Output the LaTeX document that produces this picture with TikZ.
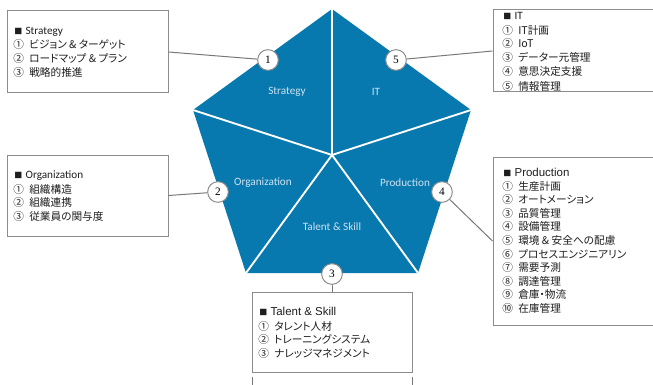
\documentclass[tikz,border=0pt]{standalone}
\usepackage{fontspec}
\setmainfont{Liberation Sans}
\newfontfamily\jpf[RawFeature=+palt]{Noto Sans CJK JP}
\newfontfamily\calf{Carlito}
\newfontfamily\serf{Liberation Serif}
\usetikzlibrary{fit}
\definecolor{pent}{RGB}{8,121,175}
\definecolor{lbl}{RGB}{205,226,240}
\definecolor{bordc}{RGB}{140,140,140}
\definecolor{connc}{RGB}{120,120,120}
\definecolor{txtc}{RGB}{30,30,30}
\newcommand\sq{{\fontsize{6pt}{7pt}\selectfont ■}\hspace{2.5pt}}
\newcommand\gp{\hspace{4pt}}
\tikzset{
  box/.style={draw=bordc, line width=0.75pt, inner sep=0pt, fill=white},
  ln/.style={anchor=base west, inner sep=0pt, text=txtc, font=\jpf\fontsize{8pt}{10pt}\selectfont},
  plbl/.style={inner sep=0pt, text=lbl, font=\calf\fontsize{8.4pt}{10pt}\selectfont},
  numc/.style={circle, draw=bordc, fill=white, line width=0.75pt, minimum size=15.5pt, inner sep=0pt, font=\serf\fontsize{8.5pt}{10pt}\selectfont},
  conn/.style={draw=connc, line width=0.75pt},
}
\begin{document}
\begin{tikzpicture}[x=0.75pt,y=-0.75pt]
\useasboundingbox (0,0) rectangle (653,385);
% pentagon
\coordinate (C) at (332,155);
\coordinate (VT) at (332,9);
\coordinate (VL) at (193,110);
\coordinate (VR) at (471,110);
\coordinate (VBL) at (246,273);
\coordinate (VBR) at (418,273);
\fill[pent] (VT) -- (VR) -- (VBR) -- (VBL) -- (VL) -- cycle;
\foreach \v in {VT,VL,VR,VBL,VBR} \draw[white, line width=1.4pt] (C) -- (\v);
% pentagon labels
\node[plbl] (lS) at (287,92) {Strategy};
\node[plbl] (lI) at (376,92) {IT};
\node[plbl] (lO) at (263,183) {Organization};
\node[plbl] (lP) at (405,183) {Production};
\node[plbl] (lT) at (332,227) {Talent \& Skill};
% boxes
\node[box, fit={(7,11)(168,93)}] (bS) {};
\node[box, fit={(493,10)(670,92)}] (bI) {};
\node[box, fit={(7,155)(168,236)}] (bO) {};
\node[box, fit={(493,157)(670,325)}] (bP) {};
\node[box, fit={(252,292)(412,372)}] (bT) {};
\draw[conn] (252,377) -- (252,395);
\draw[conn] (412,377) -- (412,395);
% circles
\node[numc] (c1) at (268,60) {1};
\node[numc] (c5) at (396,60) {5};
\node[numc] (c2) at (218,192) {2};
\node[numc] (c4) at (442,192) {4};
\node[numc] (c3) at (332,274) {3};
% connectors
\draw[conn] (bS.east) -- (c1);
\draw[conn] (bI.west) -- (c5);
\draw[conn] (bO.east) -- (c2);
\draw[conn] (bP.west) -- (c4);
\draw[conn] (bT.north) -- (c3);
% Strategy text
\node[ln] (s0) at (14,35) {\sq{\calf\fontsize{8.4pt}{10pt}\selectfont Strategy}};
\node[ln] (s1) at (13,49) {①\gp ビジョン \& ターゲット};
\node[ln] (s2) at (13,63) {②\gp ロードマップ \& プラン};
\node[ln] (s3) at (13,77) {③\gp 戦略的推進};
% IT text
\node[ln] (i0) at (503,20) {\sq{\calf\fontsize{8.4pt}{10pt}\selectfont IT}};
\node[ln] (i1) at (502,35) {①\gp IT計画};
\node[ln] (i2) at (502,48) {②\gp IoT};
\node[ln] (i3) at (502,62) {③\gp データー元管理};
\node[ln] (i4) at (502,76) {④\gp 意思決定支援};
\node[ln] (i5) at (502,90) {⑤\gp 情報管理};
% Organization text
\node[ln] (o0) at (14,178) {\sq{\calf\fontsize{8.4pt}{10pt}\selectfont Organization}};
\node[ln] (o1) at (13,193) {①\gp 組織構造};
\node[ln] (o2) at (13,206) {②\gp 組織連携};
\node[ln] (o3) at (13,220) {③\gp 従業員の関与度};
% Production text
\node[ln] (p0) at (503,176) {\sq{\fontsize{8.6pt}{10pt}\selectfont\rmfamily Production}};
\node[ln] (p1) at (502,190) {①\gp 生産計画};
\node[ln] (p2) at (502,203.6) {②\gp オートメーション};
\node[ln] (p3) at (502,217.2) {③\gp 品質管理};
\node[ln] (p4) at (502,230.8) {④\gp 設備管理};
\node[ln] (p5) at (502,244.4) {⑤\gp 環境 \& 安全への配慮};
\node[ln] (p6) at (502,258) {⑥\gp プロセスエンジニアリン};
\node[ln] (p7) at (502,271.6) {⑦\gp 需要予測};
\node[ln] (p8) at (502,285.2) {⑧\gp 調達管理};
\node[ln] (p9) at (502,298.8) {⑨\gp 倉庫・物流};
\node[ln] (p10) at (502,312.4) {⑩\gp 在庫管理};
% Talent text
\node[ln] (t0) at (259,315) {\sq{\fontsize{8.6pt}{10pt}\selectfont\rmfamily Talent \& Skill}};
\node[ln] (t1) at (258,330) {①\gp タレント人材};
\node[ln] (t2) at (258,343) {②\gp トレーニングシステム};
\node[ln] (t3) at (258,357) {③\gp ナレッジマネジメント};
\end{tikzpicture}
\end{document}
